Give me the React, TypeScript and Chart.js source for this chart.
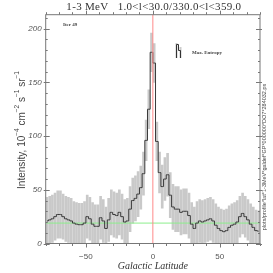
import React, { useEffect, useRef } from "react";
import { Chart, registerables } from "chart.js";
Chart.register(...registerables);

const latitudes = [
  -79, -77, -75, -73, -71, -69, -67, -65, -63, -61, -59, -57, -55, -53, -51, -49, -47, -45, -43, -41,
  -39, -37, -35, -33, -31, -29, -27, -25, -23, -21, -19, -17,
  -15, -13, -11, -9, -7, -5, -3, -1,
  1, 3, 5, 7, 9, 11, 13, 15,
  17, 19, 21, 23, 25, 27, 29, 31, 33, 35, 37, 39,
  41, 43, 45, 47, 49, 51, 53, 55, 57, 59, 61, 63, 65, 67, 69, 71, 73, 75, 77, 79,
];
const intensity = [
  21, 22, 23, 25, 27, 27, 25, 23, 22, 21, 19, 18, 17.5, 17.5, 19, 25, 23, 18, 16, 16,
  24, 21, 14, 22, 29, 27, 26, 29, 25, 20, 21, 32,
  40, 42, 46, 52, 65, 96, 125, 178,
  168, 95, 66, 53, 60, 64, 45, 34,
  32, 32, 29, 30, 30, 26, 18, 14, 19, 21, 20, 21,
  22, 23, 21, 17, 14, 12, 11, 12, 15, 17, 18, 20, 25, 28, 25, 22, 18, 15, 12, 11.5,
];
const errors = [
  22, 22, 22, 22, 22, 22, 21, 21, 21, 21, 20, 20, 20, 20, 20, 20, 20, 20, 20, 20,
  20, 20, 20, 20, 21, 21, 21, 21, 21, 21, 21, 21,
  21, 21, 21, 20, 20, 19, 18, 18,
  18, 18, 19, 20, 20, 20, 21, 21,
  21, 21, 21, 21, 21, 21, 20, 20, 20, 20, 20, 20,
  20, 20, 20, 20, 20, 20, 20, 20, 20, 20, 20, 20, 19, 19, 19, 19, 19, 19, 19, 19,
];
const backgroundLevel = 19;
const xRange = [-80, 80];
const yRange = [0, 213];
const xMajorTicks = [-50, 0, 50];
const xMinorTicks = [-80, -70, -60, -40, -30, -20, -10, 10, 20, 30, 40, 60, 70, 80];
const yMajorTicks = [0, 50, 100, 150, 200];
const yMinorTicks = [10, 20, 30, 40, 60, 70, 80, 90, 110, 120, 130, 140, 160, 170, 180, 190, 210];
const titleText = "1-3 MeV   1.0<l<30.0/330.0<l<359.0";
const iterText = "Iter 49";
const legendText = "Max. Entropy";
const xTitle = "Galactic Latitude";
const yTitleParts: [string, boolean][] = [
  ["Intensity, 10", false], ["\u22124", true], [" cm", false], ["\u22122", true],
  [" s", false], ["\u22121", true], [" sr", false], ["\u22121", true],
];
const fileText = "plots/profile*lat*1-3MeV*galdef*GP*000000*DO7*284032.ps";

const decor = {
  id: "decor",
  afterDatasetsDraw(chart: any) {
    const { ctx, chartArea: a, scales } = chart;
    const xs = scales.x, ys = scales.y;
    ctx.save();
    ctx.strokeStyle = "#777";
    ctx.lineWidth = 1;
    ctx.strokeRect(a.left, a.top, a.right - a.left, a.bottom - a.top);
    ctx.beginPath();
    const xt = (v: number, len: number) => {
      const p = Math.round(xs.getPixelForValue(v)) + 0.5;
      ctx.moveTo(p, a.bottom); ctx.lineTo(p, a.bottom + len);
      ctx.moveTo(p, a.top); ctx.lineTo(p, a.top - len);
    };
    xMajorTicks.forEach((v) => xt(v, 4));
    xMinorTicks.forEach((v) => xt(v, 2.5));
    const yt = (v: number, len: number, out: number) => {
      const p = Math.round(ys.getPixelForValue(v)) + 0.5;
      ctx.moveTo(a.left - out, p); ctx.lineTo(a.left + len, p);
      ctx.moveTo(a.right + out, p); ctx.lineTo(a.right - len, p);
    };
    yMajorTicks.forEach((v) => yt(v, 4, 2));
    yMinorTicks.forEach((v) => yt(v, 2, 0));
    ctx.stroke();
    ctx.restore();
  },
  afterDraw(chart: any) {
    const { ctx, chartArea: a } = chart;
    ctx.save();
    ctx.fillStyle = "#333";
    ctx.textBaseline = "middle";
    ctx.font = "11px 'Liberation Serif'";
    ctx.textAlign = "center";
    (ctx as any).letterSpacing = "0.3px";
    ctx.fillText(titleText, (a.left + a.right) / 2 + 1, 7);
    (ctx as any).letterSpacing = "0px";
    ctx.font = "bold 5px 'Liberation Serif'";
    ctx.textAlign = "left";
    ctx.fillStyle = "#444";
    ctx.fillText(iterText, 63, 25);
    ctx.fillText(legendText, 192, 53);
    ctx.fillStyle = "#cccccc";
    ctx.fillRect(175.5, 43, 2, 15);
    ctx.fillRect(179.5, 47, 2, 11);
    ctx.strokeStyle = "#333";
    ctx.lineWidth = 1;
    ctx.beginPath();
    ctx.moveTo(176.5, 58); ctx.lineTo(176.5, 44.5); ctx.lineTo(178.5, 44.5);
    ctx.lineTo(178.5, 50.5); ctx.lineTo(180.5, 50.5); ctx.lineTo(180.5, 58);
    ctx.stroke();
    ctx.fillStyle = "#333";
    ctx.font = "italic 10px 'Liberation Serif'";
    ctx.textAlign = "center";
    ctx.fillText(xTitle, (a.left + a.right) / 2, 266);
    ctx.save();
    ctx.translate(22, 130);
    ctx.rotate(-Math.PI / 2);
    ctx.fillStyle = "#444";
    const mainF = "10px 'Liberation Sans'", supF = "6.5px 'Liberation Sans'";
    let total = 0;
    yTitleParts.forEach(([t, s]) => { ctx.font = s ? supF : mainF; total += ctx.measureText(t).width; });
    let x = -total / 2;
    ctx.textAlign = "left";
    yTitleParts.forEach(([t, s]) => {
      ctx.font = s ? supF : mainF;
      ctx.fillText(t, x, s ? -4.5 : 0);
      x += ctx.measureText(t).width;
    });
    ctx.restore();
    ctx.save();
    ctx.translate(264, 157);
    ctx.rotate(-Math.PI / 2);
    ctx.font = "5.5px 'Liberation Sans'";
    ctx.textAlign = "center";
    ctx.fillStyle = "#444";
    ctx.fillText(fileText, 0, 0);
    ctx.restore();
    ctx.restore();
  },
};

export default function App() {
  const ref = useRef<HTMLCanvasElement>(null);
  useEffect(() => {
    if (!ref.current) return;
    const chart = new Chart(ref.current, {
      type: "bar",
      data: {
        datasets: [
          {
            type: "line",
            data: [{ x: 0, y: yRange[0] }, { x: 0, y: yRange[1] }],
            borderColor: "#ff8a8a",
            borderWidth: 1,
            pointRadius: 0,
            order: 0,
          } as any,
          {
            type: "line",
            data: [{ x: xRange[0], y: 0 }, { x: xRange[1], y: 0 }],
            borderColor: "#ff8a8a",
            borderWidth: 1,
            pointRadius: 0,
            clip: false,
            order: 0,
          },
          {
            type: "line",
            data: latitudes.map((x, i) => ({ x, y: intensity[i] })),
            borderColor: "#3a3a3a",
            borderWidth: 1,
            pointRadius: 0,
            stepped: "middle",
            order: 1,
          },
          {
            type: "line",
            data: [{ x: xRange[0], y: backgroundLevel }, { x: xRange[1], y: backgroundLevel }],
            borderColor: "#8cee8c",
            borderWidth: 1,
            pointRadius: 0,
            order: 2,
          },
          {
            type: "bar",
            data: latitudes.map((x, i) => ({ x, y: [intensity[i] - errors[i], intensity[i] + errors[i]] })),
            backgroundColor: "#c9c9c9",
            barThickness: 2,
            grouped: false,
            order: 3,
          } as any,
        ],
      },
      options: {
        animation: false,
        responsive: false,
        events: [],
        layout: { padding: { top: 14.7, right: 13, left: 0, bottom: 0 } },
        plugins: { legend: { display: false }, tooltip: { enabled: false }, title: { display: false } },
        scales: {
          x: {
            type: "linear",
            min: xRange[0],
            max: xRange[1],
            offset: false,
            grid: { display: false, drawTicks: false },
            border: { display: false },
            afterBuildTicks: (s: any) => { s.ticks = xMajorTicks.map((v) => ({ value: v })); },
            afterFit: (s: any) => { s.height = 29.5; },
            ticks: {
              padding: 8,
              maxRotation: 0,
              color: "#555",
              font: { family: "'Liberation Sans'", size: 8 },
              callback: (v: any) => (v < 0 ? "\u2212" + Math.abs(v) : String(v)),
            },
          },
          y: {
            type: "linear",
            min: yRange[0],
            max: yRange[1],
            grid: { display: false, drawTicks: false },
            border: { display: false },
            afterBuildTicks: (s: any) => { s.ticks = yMajorTicks.map((v) => ({ value: v })); },
            afterFit: (s: any) => { s.width = 45.7; },
            ticks: {
              padding: 4,
              color: "#555",
              font: { family: "'Liberation Sans'", size: 8, style: "italic" },
            },
          },
        },
      },
      plugins: [decor],
    });
    return () => chart.destroy();
  }, []);
  return (
    <div style={{ position: "fixed", left: 0, top: 0, width: 273, height: 273, background: "#fff" }}>
      <canvas ref={ref} width={273} height={273} />
    </div>
  );
}
